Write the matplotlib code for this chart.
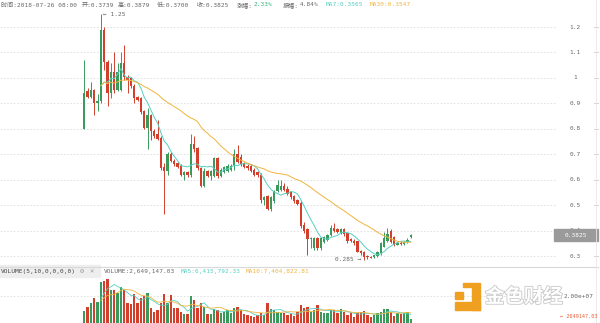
import numpy as np
import pandas as pd
import matplotlib
matplotlib.use("Agg")
import matplotlib.pyplot as plt
from matplotlib.transforms import blended_transform_factory
from matplotlib.patches import Rectangle
import matplotlib.patheffects as pe

plt.rcParams['font.family'] = ['DejaVu Sans Mono', 'Noto Sans CJK SC']

# ===== DATOS (velas 8h) =====
opens = [0.80, 0.95, 0.925, 0.953, 0.90, 0.908, 1.19, 1.064, 0.94, 1.025,
         0.953, 0.953, 1.06, 1.005, 1.0, 0.97, 0.925, 0.92, 0.87, 0.805,
         0.855, 0.79, 0.78, 0.765, 0.65, 0.635, 0.70, 0.675, 0.665, 0.655,
         0.62, 0.63, 0.618, 0.74, 0.725, 0.647, 0.577, 0.635, 0.615, 0.615,
         0.685, 0.615, 0.63, 0.635, 0.64, 0.655, 0.70, 0.69, 0.665, 0.655,
         0.654, 0.64, 0.63, 0.62, 0.52, 0.535, 0.485, 0.515, 0.555, 0.56,
         0.575, 0.565, 0.55, 0.535, 0.52, 0.51, 0.42, 0.405, 0.365, 0.33,
         0.37, 0.33, 0.356, 0.362, 0.383, 0.41, 0.405, 0.39, 0.405, 0.39,
         0.365, 0.36, 0.357, 0.32, 0.315, 0.30, 0.298, 0.295, 0.30, 0.31,
         0.337, 0.36, 0.40, 0.375, 0.345, 0.352, 0.348, 0.355, 0.3739]
highs = [1.07, 0.96, 0.985, 0.958, 0.935, 1.25, 1.20, 1.07, 1.06, 1.10,
         1.06, 1.10, 1.13, 1.01, 1.005, 0.975, 0.93, 0.925, 0.875, 0.88,
         0.86, 0.80, 0.835, 0.77, 0.665, 0.71, 0.71, 0.68, 0.67, 0.66,
         0.635, 0.635, 0.78, 0.77, 0.73, 0.65, 0.645, 0.64, 0.64, 0.69,
         0.69, 0.645, 0.655, 0.66, 0.66, 0.72, 0.735, 0.70, 0.67, 0.66,
         0.66, 0.645, 0.635, 0.625, 0.535, 0.54, 0.535, 0.56, 0.60, 0.60,
         0.585, 0.575, 0.555, 0.54, 0.525, 0.515, 0.435, 0.41, 0.375, 0.375,
         0.375, 0.375, 0.38, 0.385, 0.42, 0.43, 0.41, 0.41, 0.41, 0.395,
         0.37, 0.365, 0.36, 0.325, 0.32, 0.305, 0.30, 0.305, 0.32, 0.355,
         0.394, 0.41, 0.405, 0.38, 0.36, 0.36, 0.358, 0.37, 0.3879]
lows = [0.80, 0.92, 0.92, 0.856, 0.87, 0.90, 1.03, 0.89, 0.92, 0.94,
        0.95, 0.95, 0.99, 0.94, 0.96, 0.90, 0.91, 0.86, 0.80, 0.72,
        0.755, 0.765, 0.755, 0.64, 0.466, 0.62, 0.67, 0.655, 0.645, 0.615,
        0.60, 0.61, 0.61, 0.71, 0.64, 0.57, 0.57, 0.61, 0.60, 0.61,
        0.605, 0.61, 0.625, 0.63, 0.635, 0.64, 0.665, 0.655, 0.645, 0.64,
        0.63, 0.615, 0.61, 0.51, 0.50, 0.48, 0.475, 0.51, 0.55, 0.555,
        0.555, 0.54, 0.525, 0.51, 0.50, 0.41, 0.39, 0.304, 0.33, 0.325,
        0.325, 0.325, 0.35, 0.36, 0.38, 0.395, 0.39, 0.385, 0.38, 0.35,
        0.355, 0.345, 0.315, 0.305, 0.285, 0.29, 0.292, 0.292, 0.298, 0.305,
        0.335, 0.355, 0.35, 0.34, 0.342, 0.345, 0.345, 0.35, 0.37]
closes = [0.94, 0.925, 0.953, 0.90, 0.91, 1.19, 1.064, 0.94, 1.025, 0.953,
          1.025, 1.06, 1.005, 0.99, 0.967, 0.92, 0.915, 0.865, 0.805, 0.855,
          0.79, 0.77, 0.76, 0.645, 0.635, 0.70, 0.675, 0.66, 0.65, 0.62,
          0.63, 0.618, 0.74, 0.72, 0.647, 0.577, 0.635, 0.615, 0.635, 0.685,
          0.615, 0.64, 0.65, 0.655, 0.655, 0.70, 0.67, 0.66, 0.65, 0.645,
          0.635, 0.62, 0.62, 0.52, 0.53, 0.485, 0.53, 0.555, 0.578, 0.575,
          0.56, 0.545, 0.53, 0.515, 0.505, 0.416, 0.40, 0.365, 0.37, 0.37,
          0.33, 0.37, 0.376, 0.383, 0.41, 0.40, 0.395, 0.405, 0.385, 0.36,
          0.36, 0.35, 0.317, 0.31, 0.295, 0.295, 0.294, 0.302, 0.315, 0.35,
          0.37, 0.385, 0.355, 0.345, 0.352, 0.348, 0.355, 0.362, 0.3825]
# volumen en millones
volumes = [8.9, 11.8, 14.8, 18.5, 15.5, 30.3, 31.1, 32.6, 24.4, 24.4,
           22.2, 26.6, 24.4, 14.8, 14.1, 21.5, 14.8, 18.5, 20.0, 22.2,
           11.1, 8.1, 9.6, 14.8, 21.5, 14.8, 20.7, 11.1, 11.1, 8.1,
           6.7, 6.7, 20.0, 17.0, 11.1, 14.8, 11.8, 6.7, 6.7, 10.4,
           9.6, 7.4, 8.1, 9.6, 7.4, 11.1, 11.8, 9.6, 6.7, 5.9,
           5.2, 4.4, 5.9, 7.4, 5.9, 14.8, 10.4, 9.6, 8.1, 7.4,
           7.4, 5.9, 6.7, 5.2, 8.1, 13.3, 11.1, 11.8, 8.1, 9.6,
           13.3, 8.1, 7.4, 7.4, 9.6, 9.6, 7.4, 10.4, 8.1, 5.9,
           7.4, 4.4, 7.4, 8.1, 8.9, 5.9, 4.4, 5.9, 7.4,
           8.0, 10.0, 10.5, 8.5, 4.97, 7.4, 6.6, 7.3, 8.13, 2.649]
price_ticks = [0.3, 0.4, 0.5, 0.6, 0.7, 0.8, 0.9, 1.0, 1.1, 1.2]
price_labels = ["0.3", "0.4", "0.5", "0.6", "0.7", "0.8", "0.9", "1", "1.1", "1.2"]

GREEN = "#3a9a5c"
RED = "#d0402c"
CYAN = "#55cfc3"
GOLD = "#f0b43c"
GRAY = "#666666"
FS = 4.4

W, H = 600, 323
fig = plt.figure(figsize=(6, 3.23), dpi=100)

def fx(px):
    return px / W

def fy(py):
    return 1 - py / H

x = np.arange(len(closes))
o = np.array(opens); c = np.array(closes)
hi = np.array(highs); lo = np.array(lows)
up = c >= o
cols = np.where(up, GREEN, RED)

# ===== PRECIO =====
ax = fig.add_axes([0, fy(266), fx(557), 1 - fy(266)])
ax.set_xlim(-25.3, 141.9)
y_top = 0.3 + 256 / 254.4
y_bot = 0.3 - 10 / 254.4
ax.set_ylim(y_bot, y_top)
for t in price_ticks:
    ax.axhline(t, color="#dddddd", lw=0.6, ls=(0, (2, 2)), zorder=0)
ax.vlines(x, lo, hi, color=cols, lw=0.7, zorder=2)
body = np.maximum(np.abs(c - o), 0.003)
ax.bar(x, body, bottom=np.minimum(o, c), width=0.7, color=cols, lw=0, zorder=3)

ma7 = pd.Series(closes).rolling(7, min_periods=1).mean()
ma30 = pd.Series(closes).rolling(30, min_periods=1).mean()
ax.plot(x[5:], ma7[5:], color=CYAN, lw=0.7, zorder=4)
ax.plot(x[5:], ma30[5:], color=GOLD, lw=0.7, zorder=4)

imax = int(np.argmax(hi)); imin = int(np.argmin(lo))
ax.text(imax + 0.6, hi[imax], "\u2190 %.2f" % hi[imax], fontsize=FS, color=GRAY,
        va="center", ha="left")
ax.text(imin - 0.8, lo[imin], "%.3f \u2192" % lo[imin], fontsize=FS, color=GRAY,
        va="center", ha="right")
ax.axis("off")

tr = blended_transform_factory(fig.transFigure, ax.transData)
for t, lab in zip(price_ticks, price_labels):
    ax.text(fx(575), t, lab, transform=tr, fontsize=FS, color=GRAY,
            ha="center", va="center", clip_on=False, zorder=1)
    ax.plot([fx(594), fx(598)], [t, t], transform=tr, color="#cccccc", lw=0.6,
            clip_on=False)

# precio actual
ax.add_patch(Rectangle((fx(554), closes[-1] - 0.023), fx(44), 0.046,
                       transform=tr, color="#9a9a9a", clip_on=False, zorder=5))
ax.text(fx(576), closes[-1], "%.4f" % closes[-1], transform=tr, fontsize=FS,
        color="white", ha="center", va="center", zorder=6, clip_on=False)

# ===== VOLUMEN =====
av = fig.add_axes([0, 0, fx(557), fy(268)])
av.set_xlim(-25.3, 141.9)
av.set_ylim(0, 40.7)
av.axhline(20.0, color="#dddddd", lw=0.6, ls=(0, (2, 2)), zorder=0)
av.bar(x, volumes, width=0.7, color=cols, lw=0, zorder=3)
vma5 = pd.Series(volumes).rolling(5, min_periods=1).mean()
vma10 = pd.Series(volumes).rolling(10, min_periods=1).mean()
av.plot(x[5:], vma5[5:], color=CYAN, lw=0.6, zorder=4)
av.plot(x[5:], vma10[5:], color=GOLD, lw=0.6, zorder=4)
av.axis("off")

# lineas de marco
fig.add_artist(plt.Line2D([0, fx(598)], [fy(267), fy(267)], color="#d8d8d8", lw=0.8))
fig.add_artist(plt.Line2D([fx(596), fx(596)], [0, 1], color="#e6e6e6", lw=0.6))

# ===== CABECERA =====
yh = fy(5)
def put(px, s, color=GRAY):
    fig.text(fx(px), yh, s, fontsize=FS, color=color, va="center", ha="left")

put(1, "时间:2018-07-26 08:00")
put(82, "开:0.3739")
put(118, "高:0.3879")
put(157, "低:0.3700")
put(197, "收:0.3825")
put(237, "涨幅:")
put(254, "2.33%", "#2eb37a")
put(283, "振幅:")
put(300, "4.84%")
put(326, "MA7:0.3565", CYAN)
put(370, "MA30:0.3547", GOLD)

# cabecera volumen
fig.patches.append(Rectangle((0, fy(277)), fx(100), fy(265) - fy(277),
                             transform=fig.transFigure, color="#eeeeee", zorder=0))
yv = fy(271)
fig.text(fx(1), yv, "VOLUME(5,10,0,0,0,0)", fontsize=FS, color="#444444", va="center")
fig.text(fx(80), yv, "\u2699", fontsize=5, color="#999999", va="center")
fig.text(fx(90), yv, "\u2715", fontsize=5, color="#999999", va="center")
fig.text(fx(104), yv, "VOLUME:2,649,147.03", fontsize=FS, color=GRAY, va="center")
fig.text(fx(181), yv, "MA5:6,415,792.33", fontsize=FS, color=CYAN, va="center")
fig.text(fx(246), yv, "MA10:7,404,822.81", fontsize=FS, color=GOLD, va="center")

fig.text(fx(564), fy(296), "2.00e+07", fontsize=FS, color=GRAY, va="center")
fig.text(fx(560), fy(317), "\u2190 2649147.03", fontsize=3.8, color="#e8623c", va="center")

# marca de agua
for (px, py, w, h) in [(463, 283, 8, 4), (472, 283, 8, 27), (455, 302, 25, 8), (455, 292, 8, 7)]:
    fig.patches.append(Rectangle((fx(px), fy(py + h)), fx(w), fy(py) - fy(py + h),
                                 transform=fig.transFigure, color="#f0a020", zorder=1))
wm = fig.text(fx(485), fy(297), "金色财经", fontsize=14, color="white",
              family="Noto Sans CJK SC", weight="bold", va="center", ha="left")
wm.set_path_effects([pe.withStroke(linewidth=1.2, foreground="#c8c8c8")])

fig.savefig("out.png", dpi=100)
plt.close(fig)
